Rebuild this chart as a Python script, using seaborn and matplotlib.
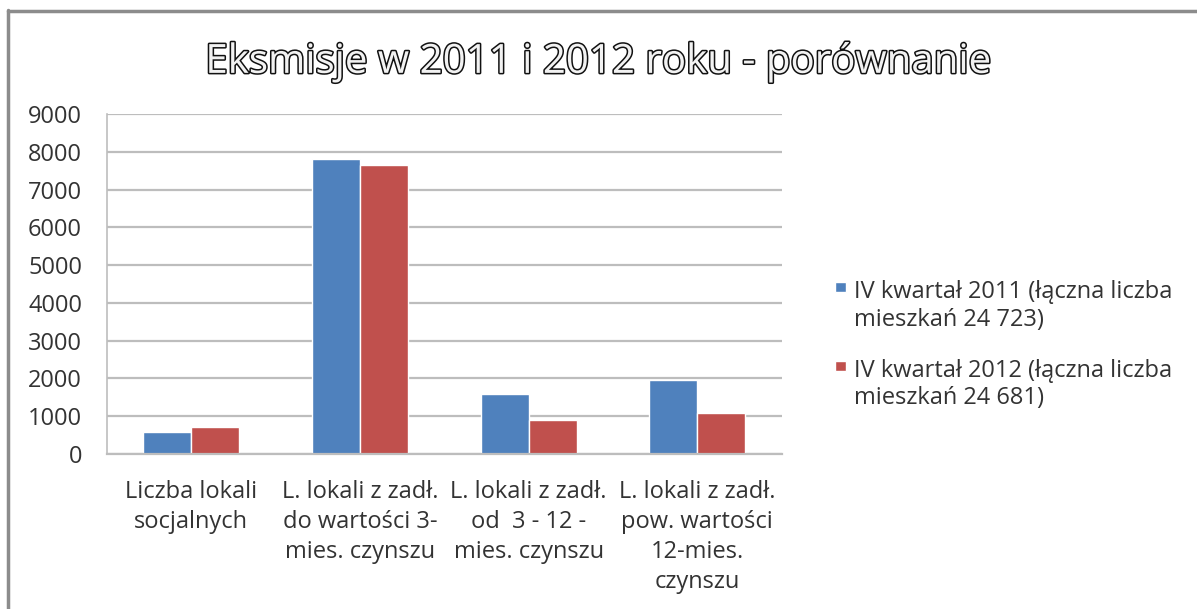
import pandas as pd
import seaborn as sns
import matplotlib.pyplot as plt
import matplotlib.patheffects as pe
from matplotlib.lines import Line2D
from matplotlib.patches import Patch, Rectangle
from matplotlib.legend_handler import HandlerPatch

sns.set_theme(style="white")
plt.rcParams['font.family'] = ['Open Sans', 'DejaVu Sans']

# dane
kategorie = [
    "Liczba lokali\nsocjalnych",
    "L. lokali z zadł.\ndo wartości 3-\nmies. czynszu",
    "L. lokali z zadł.\nod  3 - 12 -\nmies. czynszu",
    "L. lokali z zadł.\npow. wartości\n12-mies.\nczynszu",
]
serie = [
    "IV kwartał 2011 (łączna liczba\nmieszkań 24 723)",
    "IV kwartał 2012 (łączna liczba\nmieszkań 24 681)",
]
wartosci_2011 = [590, 7810, 1590, 1960]
wartosci_2012 = [725, 7660, 900, 1075]
y_ticks = list(range(0, 10000, 1000))

df = pd.DataFrame({
    "kategoria": kategorie * 2,
    "okres": [serie[0]] * 4 + [serie[1]] * 4,
    "wartosc": wartosci_2011 + wartosci_2012,
})

fig = plt.figure(figsize=(11.97, 6.09), dpi=100)
ax = fig.add_axes([0.0894, 0.2545, 0.5636, 0.5583])

sns.barplot(data=df, x="kategoria", y="wartosc", hue="okres",
            palette=["#4f81bd", "#c0504d"], saturation=1, width=0.57,
            gap=0, ax=ax)

ax.set_ylim(0, 9000)
ax.set_yticks(y_ticks)
ax.set_yticklabels([str(v) for v in y_ticks], fontsize=17, color="#333333")
ax.tick_params(axis="x", labelsize=17, labelcolor="#333333", pad=19, length=0)
ax.tick_params(axis="y", pad=18, length=0)
ax.set_xlabel("")
ax.set_ylabel("")
ax.yaxis.grid(True, color="#bdbdbd", linewidth=1.6)
ax.set_axisbelow(True)
for s in ["top", "right"]:
    ax.spines[s].set_visible(False)
ax.spines["left"].set_color("#bdbdbd")
ax.spines["left"].set_linewidth(1.2)
ax.spines["bottom"].set_color("#bdbdbd")
ax.spines["bottom"].set_linewidth(1.6)
for lab in ax.get_xticklabels():
    lab.set_linespacing(1.32)


# kwadracik legendy przy pierwszej linii tekstu
def top_square(legend, orig_handle, xdescent, ydescent, width, height, fontsize):
    s = 0.45 * fontsize
    return Rectangle((-xdescent, 0.95 * fontsize), s, s)


leg = ax.legend(loc="center left", bbox_to_anchor=(1.062, 0.32), frameon=False,
                fontsize=17, handlelength=0.45, handleheight=0.45,
                handletextpad=0.35, labelspacing=1.15, borderpad=0,
                labelcolor="#333333",
                handler_map={Patch: HandlerPatch(patch_func=top_square)})
for t in leg.get_texts():
    t.set_linespacing(1.2)

fig.text(0.5, 0.898, "Eksmisje w 2011 i 2012 roku - porównanie", ha="center",
         va="center", fontsize=29, color="#f2f2f2",
         path_effects=[pe.withStroke(linewidth=2.2, foreground="#111111")])

# ramka wykresu
fig.add_artist(Line2D([8 / 1197, 8 / 1197], [0, 1 - 10 / 609],
                      transform=fig.transFigure, color="#8c8c8c", linewidth=2.5))
fig.add_artist(Line2D([8 / 1197, 1], [1 - 11 / 609, 1 - 11 / 609],
                      transform=fig.transFigure, color="#8c8c8c", linewidth=2.5))

fig.savefig("out.png", dpi=100)
